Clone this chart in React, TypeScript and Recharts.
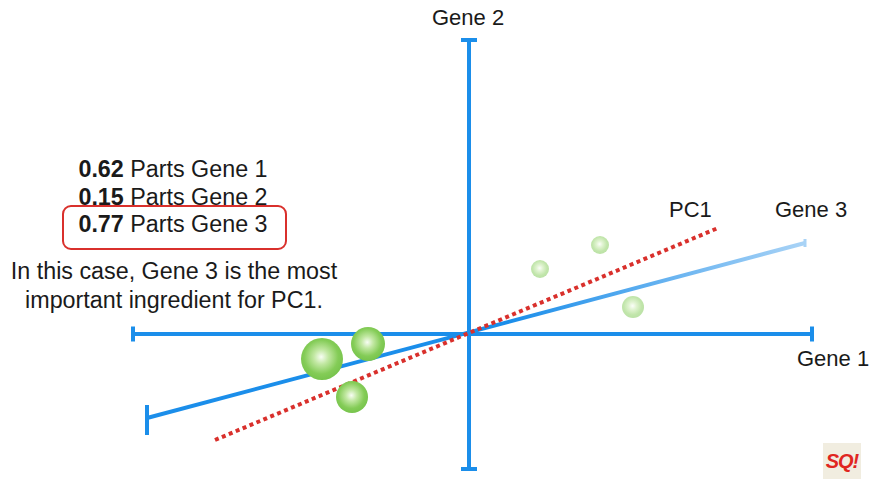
import { ScatterChart, Scatter, XAxis, YAxis, ReferenceLine } from 'recharts'

// units: origin where Gene 1 and Gene 2 axes cross
const gene1Axis = [{ x: -33.6, y: 0 }, { x: 34.3, y: 0 }]
const gene2Axis = [{ x: 0, y: 29.4 }, { x: 0, y: -13.5 }]
const gene3Axis = [{ x: -32.2, y: -8.4 }, { x: 33.6, y: 9.1 }]
const pc1Line = [{ x: -25.4, y: -10.6 }, { x: 24.9, y: 10.6 }]

const leftCluster = [
  { x: -14.7, y: -2.5, r: 21 },
  { x: -10.1, y: -1.0, r: 17 },
  { x: -11.7, y: -6.3, r: 16 },
]
const rightCluster = [
  { x: 7.1, y: 6.5, r: 9 },
  { x: 13.1, y: 8.9, r: 9 },
  { x: 16.4, y: 2.7, r: 11 },
]

const loadings = [
  { value: '0.62', label: 'Parts Gene 1' },
  { value: '0.15', label: 'Parts Gene 2' },
  { value: '0.77', label: 'Parts Gene 3' },
]

const BLUE = '#1b8eea'
const RED = '#d9302c'
const font = '"Liberation Sans", Arial, Helvetica, sans-serif'

function Sphere(props: any) {
  const { cx, cy, payload, faded } = props
  return (
    <circle
      cx={cx}
      cy={cy}
      r={payload.r}
      fill="url(#sphereFill)"
      opacity={faded ? 0.5 : 1}
    />
  )
}

const label = (text: string, left: number, top: number, size = 22) => (
  <div
    style={{
      position: 'absolute',
      left,
      top,
      fontSize: size,
      lineHeight: '26px',
      color: '#1a1a1a',
      whiteSpace: 'nowrap',
    }}
  >
    {text}
  </div>
)

export default function App() {
  return (
    <div
      style={{
        position: 'absolute',
        left: 0,
        top: 0,
        width: 873,
        height: 481,
        background: '#fff',
        fontFamily: font,
        overflow: 'hidden',
      }}
    >
      <svg width={0} height={0} style={{ position: 'absolute' }}>
        <defs>
          <radialGradient id="sphereFill" cx="48%" cy="45%" r="58%">
            <stop offset="0%" stopColor="#f8fdf4" />
            <stop offset="30%" stopColor="#c2e8a3" />
            <stop offset="70%" stopColor="#84cc57" />
            <stop offset="100%" stopColor="#74c24a" />
          </radialGradient>
          <linearGradient id="gene3Fade" x1="0" y1="0" x2="1" y2="0">
            <stop offset="0%" stopColor={BLUE} />
            <stop offset="55%" stopColor={BLUE} />
            <stop offset="100%" stopColor="#a9d3f6" />
          </linearGradient>
        </defs>
      </svg>

      <ScatterChart width={873} height={481} margin={{ top: 0, right: 0, bottom: 0, left: 0 }}>
        <XAxis type="number" dataKey="x" domain={[-46.9, 40.4]} hide allowDataOverflow />
        <YAxis type="number" dataKey="y" domain={[-14.7, 33.4]} hide allowDataOverflow />

        <ReferenceLine segment={gene1Axis} stroke={BLUE} strokeWidth={4} />
        <ReferenceLine segment={[{ x: -33.6, y: 0.75 }, { x: -33.6, y: -0.75 }]} stroke={BLUE} strokeWidth={4} />
        <ReferenceLine segment={[{ x: 34.3, y: 0.75 }, { x: 34.3, y: -0.75 }]} stroke={BLUE} strokeWidth={4} />

        <ReferenceLine segment={gene2Axis} stroke={BLUE} strokeWidth={4} />
        <ReferenceLine segment={[{ x: -0.8, y: 29.4 }, { x: 0.8, y: 29.4 }]} stroke={BLUE} strokeWidth={4} />
        <ReferenceLine segment={[{ x: -0.8, y: -13.5 }, { x: 0.8, y: -13.5 }]} stroke={BLUE} strokeWidth={4} />

        <ReferenceLine segment={gene3Axis} stroke="url(#gene3Fade)" strokeWidth={4} />
        <ReferenceLine segment={[{ x: -32.2, y: -7.1 }, { x: -32.2, y: -10.1 }]} stroke={BLUE} strokeWidth={4} />
        <ReferenceLine segment={[{ x: 33.6, y: 9.5 }, { x: 33.6, y: 8.7 }]} stroke="#a9d3f6" strokeWidth={3} />

        <Scatter data={leftCluster} isAnimationActive={false} shape={(p: any) => <Sphere {...p} />} />
        <Scatter data={rightCluster} isAnimationActive={false} shape={(p: any) => <Sphere {...p} faded />} />

        <ReferenceLine segment={pc1Line} stroke={RED} strokeWidth={4} strokeDasharray="4 3.5" />
      </ScatterChart>

      {label('Gene 2', 432, 5)}
      {label('Gene 1', 797, 346)}
      {label('PC1', 669, 197)}
      {label('Gene 3', 775, 197)}

      <div
        style={{
          position: 'absolute',
          left: 62,
          top: 205,
          width: 225,
          height: 45,
          border: `2px solid ${RED}`,
          borderRadius: 9,
          boxSizing: 'border-box',
        }}
      />
      <div
        style={{
          position: 'absolute',
          left: 0,
          top: 156,
          width: 346,
          textAlign: 'center',
          fontSize: 23.3,
          lineHeight: '27.5px',
          color: '#1a1a1a',
        }}
      >
        {loadings.map((d) => (
          <div key={d.label}>
            <b>{d.value}</b> {d.label}
          </div>
        ))}
      </div>
      <div
        style={{
          position: 'absolute',
          left: 0,
          top: 257,
          width: 348,
          textAlign: 'center',
          fontSize: 23.3,
          lineHeight: '29px',
          color: '#1a1a1a',
        }}
      >
        In this case, Gene 3 is the most
        <br />
        important ingredient for PC1.
      </div>

      <div
        style={{
          position: 'absolute',
          left: 823,
          top: 443,
          width: 38,
          height: 36,
          background: '#f1ede0',
          color: '#e0261f',
          fontWeight: 'bold',
          fontStyle: 'italic',
          fontSize: 20,
          lineHeight: '36px',
          textAlign: 'center',
          letterSpacing: -1,
        }}
      >
        SQ!
      </div>
    </div>
  )
}
